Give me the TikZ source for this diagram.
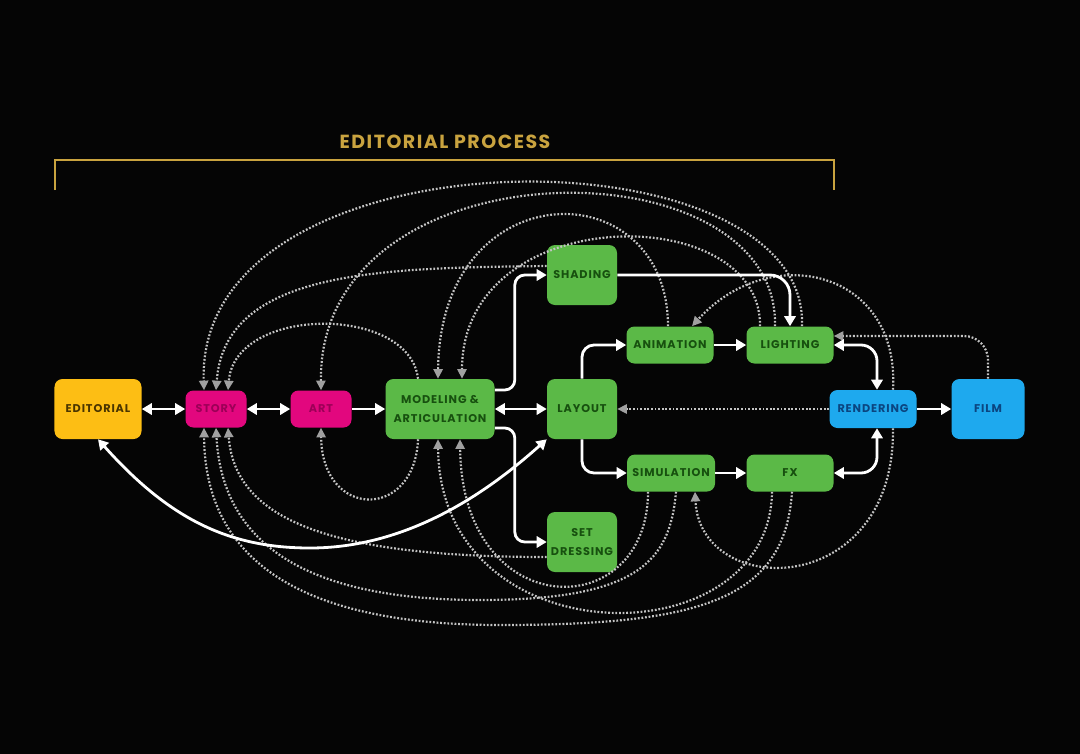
\documentclass[tikz,border=0pt]{standalone}
\usepackage{fontspec}
\setmainfont{Poppins}
\newfontfamily\boxfont{Poppins}[LetterSpace=8]
\newfontfamily\headfont{Poppins}[LetterSpace=8]
\usepackage{tikz}
\usetikzlibrary{positioning,arrows.meta,calc}

\definecolor{cEdit}{HTML}{FDBE14}
\definecolor{cEditTxt}{HTML}{4A3500}
\definecolor{cPink}{HTML}{E2077E}
\definecolor{cPinkTxt}{HTML}{9C0057}
\definecolor{cGreen}{HTML}{5BB947}
\definecolor{cGreenTxt}{HTML}{17500F}
\definecolor{cBlue}{HTML}{1EA9EE}
\definecolor{cBlueTxt}{HTML}{0B4580}
\definecolor{cGold}{HTML}{C9A33F}
\definecolor{cDot}{HTML}{C4C4C4}
\definecolor{cTip}{HTML}{A0A0A0}

\begin{document}
\begin{tikzpicture}[
  x=0.25mm, y=-0.25mm,
  font=\boxfont\bfseries\fontsize{8}{13.5}\selectfont,
  box/.style       = {rectangle, rounded corners=2mm, align=center, inner sep=1pt},
  yellowbox/.style = {box, fill=cEdit, text=cEditTxt},
  pinknode/.style  = {box, fill=cPink, text=cPinkTxt,
                      minimum width=15.25mm, minimum height=9.25mm},
  greennode/.style = {box, fill=cGreen, text=cGreenTxt},
  bluenode/.style  = {box, fill=cBlue, text=cBlueTxt},
  wide/.style      = {minimum width=21.75mm, minimum height=9.25mm},
  tall/.style      = {minimum width=17.5mm, minimum height=15mm},
  arr/.style       = {white, line width=0.7mm,
                      -{Triangle[length=2.5mm,width=2.8mm]}},
  arrtwo/.style    = {arr, {Triangle[length=2.5mm,width=2.8mm]}-{Triangle[length=2.5mm,width=2.8mm]}},
  fb/.style        = {cDot, line width=0.55mm, dash pattern=on 0.45mm off 0.45mm,
                      -{Triangle[length=2.4mm,width=2.3mm,color=cTip]}}
]
\useasboundingbox (0,0) rectangle (1080,754);
\fill[black!98] (0,0) rectangle (1080,754);

% Editorial bracket
\node[font=\headfont\bfseries\fontsize{13.5}{15}\selectfont, text=cGold] (title) at (445,142) {EDITORIAL PROCESS};
\draw[cGold, line width=0.5mm] (55,190) |- (834,160) -- (834,190);

% Main row
\node[yellowbox, minimum width=21.75mm, minimum height=15mm] (editorial) at (98,409) {EDITORIAL};
\node[pinknode] (story) at (216,409) {STORY};
\node[pinknode] (art)   at (321,409) {ART};
\node[greennode, minimum width=27.25mm, minimum height=15mm] (modeling) at (440,409) {MODELING \&\\ARTICULATION};
\node[greennode, tall] (layout)   at (582,409) {LAYOUT};
\node[greennode, tall] (shading)  at (582,275) {SHADING};
\node[greennode, tall] (setdress) at (582,542) {SET\\DRESSING};
\node[greennode, wide] (animation)  at (670,345) {ANIMATION};
\node[greennode, wide] (lighting)   at (790,345) {LIGHTING};
\node[greennode, wide, minimum width=22mm] (simulation) at (671,473) {SIMULATION};
\node[greennode, wide] (fx)         at (790,473) {FX};
\node[bluenode, wide, minimum height=9.5mm] (rendering) at (873,409) {RENDERING};
\node[bluenode, minimum width=18.25mm, minimum height=15mm] (film) at (988,409) {FILM};

% Feedback above the row
\draw[fb] ($(lighting.north)+(12,0)$) .. controls (810,125) and (195,125) .. ($(story.north)+(-12,0)$);
\draw[fb] ($(lighting.north)+(-15,0)$) .. controls (780,140) and (318,140) .. (art.north);
\draw[fb] ($(animation.north)+(-2,0)$) .. controls (668,170) and (440,170) .. ($(modeling.north)+(-2,0)$);
\draw[fb] ($(lighting.north)+(-30,0)$) .. controls (762,200) and (462,200) .. ($(modeling.north)+(22,0)$);
\draw[fb] ($(shading.west)+(0,-9)$) .. controls (380,268) and (225,270) .. (story.north);
\draw[fb] ($(modeling.north)+(-22,0)$) .. controls (410,305) and (235,305) .. ($(story.north)+(12,0)$);

% Feedback out of rendering and film
\draw[fb] ($(rendering.north)+(20,0)$) .. controls (900,270) and (770,240) .. ($(animation.north)+(22,0)$);
\draw[fb] ($(rendering.south)+(20,0)$) .. controls (895,600) and (700,600) .. ($(simulation.south)+(24,0)$);
\draw[fb, rounded corners=6mm] (film.north) |- ($(lighting.east)+(0,-9)$);
\draw[fb] (rendering) -- (layout);

% Feedback below the row
\draw[fb] ($(modeling.south)+(-22,0)$) .. controls (415,520) and (322,520) .. (art.south);
\draw[fb] ($(setdress.west)+(0,15)$) .. controls (330,557) and (235,520) .. ($(story.south)+(12,0)$);
\draw[fb] ($(simulation.south)+(-23,0)$) .. controls (648,625) and (462,625) .. ($(modeling.south)+(20,0)$);
\draw[fb] ($(fx.south)+(-18,0)$) .. controls (770,660) and (440,660) .. ($(modeling.south)+(-2,0)$);
\draw[fb] ($(simulation.south)+(5,0)$) .. controls (670,560) and (640,600) .. (480,600)
          .. controls (300,600) and (222,540) .. (story.south);
\draw[fb] ($(fx.south)+(2,0)$) .. controls (785,600) and (700,625) .. (500,625)
          .. controls (300,625) and (205,560) .. ($(story.south)+(-12,0)$);

% Forward flow
\draw[arrtwo] (editorial) -- (story);
\draw[arrtwo] (story) -- (art);
\draw[arr] (art) -- (modeling);
\draw[arrtwo] (modeling) -- (layout);
\draw[arr, rounded corners=2.5mm] ($(modeling.east)+(0,-19)$) -- ++(20,0) |- (shading.west);
\draw[arr, rounded corners=2.5mm] ($(modeling.east)+(0,19)$) -- ++(20,0) |- (setdress.west);
\draw[arr, rounded corners=3mm] (layout.north) |- (animation.west);
\draw[arr, rounded corners=3mm] (layout.south) |- (simulation.west);
\draw[arr] (animation) -- (lighting);
\draw[arr] (simulation) -- (fx);
\draw[arr, rounded corners=5mm] (shading.east) -| (lighting.north);
\draw[arrtwo, rounded corners=4mm] (lighting.east) -| ($(rendering.north)+(4,0)$);
\draw[arrtwo, rounded corners=4mm] (fx.east) -| ($(rendering.south)+(4,0)$);
\draw[arr] (rendering) -- (film);
\draw[arrtwo] (editorial.south) .. controls (170,520) and (230,548) .. (310,548)
              .. controls (410,548) and (490,490) .. (layout.south west);
\end{tikzpicture}
\end{document}
